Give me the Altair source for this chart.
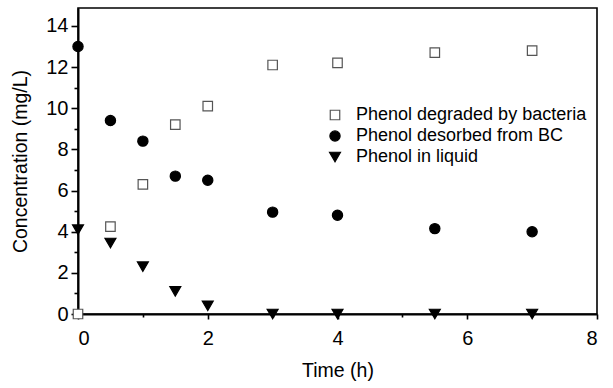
import altair as alt
import pandas as pd

# Sampling times (h)
time_h = [0, 0.5, 1, 1.5, 2, 3, 4, 5.5, 7]

# Concentrations (mg/L) for each fraction
degraded = [0.0, 4.25, 6.3, 9.2, 10.1, 12.1, 12.2, 12.7, 12.8]
desorbed = [13.0, 9.4, 8.4, 6.7, 6.5, 4.95, 4.8, 4.15, 4.0]
liquid = [4.1, 3.45, 2.3, 1.1, 0.4, 0.0, 0.0, 0.0, 0.0]

series_names = [
    "Phenol degraded by bacteria",
    "Phenol desorbed from BC",
    "Phenol in liquid",
]

x_major = [0, 2, 4, 6, 8]
x_minor = [1, 3, 5, 7]
y_major = [0, 2, 4, 6, 8, 10, 12, 14]
y_minor = [1, 3, 5, 7, 9, 11, 13]

rows = []
for name, vals in zip(series_names, [degraded, desorbed, liquid]):
    for t, v in zip(time_h, vals):
        rows.append({"Time": t, "Conc": v, "Series": name})
df = pd.DataFrame(rows)

FONT = "Liberation Sans"

x_scale = alt.Scale(domain=[0, 8], nice=False, zero=False)
y_scale = alt.Scale(domain=[0, 14.87], nice=False)

legend = alt.Legend(
    title=None,
    orient="none",
    legendX=248,
    legendY=98,
    labelFont=FONT,
    labelFontSize=18,
    labelColor="black",
    labelLimit=0,
    symbolStrokeWidth=1.2,
    rowPadding=3,
    labelOffset=12,
    padding=0,
)

points = (
    alt.Chart(df)
    .mark_point(filled=False, strokeWidth=1.2, opacity=1, clip=False)
    .encode(
        x=alt.X(
            "Time:Q",
            scale=x_scale,
            axis=alt.Axis(
                title="Time (h)",
                orient="bottom",
                values=x_major,
                tickSize=5,
                labelPadding=9,
                titlePadding=13,
            ),
        ),
        y=alt.Y(
            "Conc:Q",
            scale=y_scale,
            axis=alt.Axis(
                title="Concentration (mg/L)",
                orient="left",
                values=y_major,
                tickSize=7,
                labelPadding=3,
                titlePadding=15,
            ),
        ),
        shape=alt.Shape(
            "Series:N",
            sort=series_names,
            scale=alt.Scale(domain=series_names, range=["square", "circle", "triangle-down"]),
            legend=legend,
        ),
        fill=alt.Fill(
            "Series:N",
            sort=series_names,
            scale=alt.Scale(domain=series_names, range=["white", "black", "black"]),
            legend=legend,
        ),
        stroke=alt.Stroke(
            "Series:N",
            sort=series_names,
            scale=alt.Scale(domain=series_names, range=["#555555", "black", "black"]),
            legend=legend,
        ),
        size=alt.Size(
            "Series:N",
            sort=series_names,
            scale=alt.Scale(domain=series_names, range=[90, 120, 75]),
            legend=legend,
        ),
    )
)

# Invisible layer that only carries the minor tick marks of both axes
minor = (
    alt.Chart(df)
    .mark_point(opacity=0)
    .encode(
        x=alt.X(
            "Time:Q",
            scale=x_scale,
            axis=alt.Axis(
                title=None,
                orient="bottom",
                values=x_minor,
                labels=False,
                domain=False,
                tickSize=3,
            ),
        ),
        y=alt.Y(
            "Conc:Q",
            scale=y_scale,
            axis=alt.Axis(
                title=None,
                orient="left",
                values=y_minor,
                labels=False,
                domain=False,
                tickSize=4,
            ),
        ),
    )
)

chart = (
    alt.layer(points, minor)
    .resolve_axis(x="independent", y="independent")
    .properties(
        width=519,
        height=306,
        autosize=alt.AutoSizeParams(type="none"),
        padding={"left": 78, "top": 8, "right": 16, "bottom": 74},
        background="white",
    )
    .configure_view(stroke="black", strokeWidth=1.6)
    .configure_axis(
        grid=False,
        domainColor="black",
        domainWidth=2,
        tickColor="black",
        tickWidth=1.6,
        labelFont=FONT,
        labelFontSize=20,
        labelColor="black",
        titleFont=FONT,
        titleFontSize=19.5,
        titleFontWeight="normal",
        titleColor="black",
    )
)

chart.save("out.html", embed_options={"renderer": "svg", "actions": False})
